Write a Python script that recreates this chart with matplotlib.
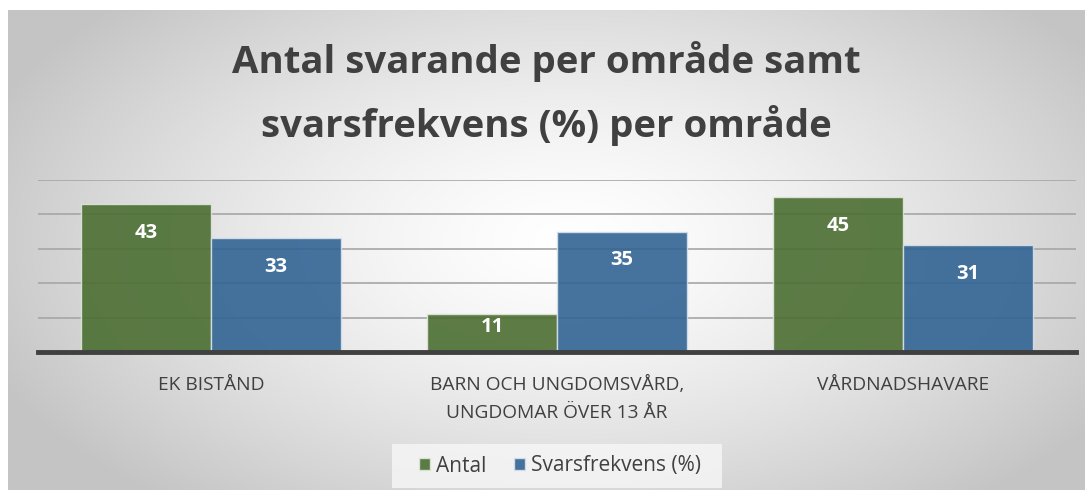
import numpy as np
import matplotlib
matplotlib.use("Agg")
import matplotlib.pyplot as plt
from matplotlib.patches import Rectangle

plt.rcParams['font.family'] = ['Open Sans', 'DejaVu Sans']

# data
categories = ["EK BISTÅND", "BARN OCH UNGDOMSVÅRD,\nUNGDOMAR ÖVER 13 ÅR", "VÅRDNADSHAVARE"]
antal = [43, 11, 45]
svarsfrekvens = [33, 35, 31]
series_names = ["Antal", "Svarsfrekvens (%)"]

c_green = "#4b6e32"
c_blue = "#326494"

fig = plt.figure(figsize=(10.92, 4.97), dpi=100)
fig.patch.set_facecolor("white")

# radial gradient background for the chart area
bg = fig.add_axes([8/1092, 1 - 490/497, (1085-8)/1092, (490-10)/497])
bg.set_axis_off()
yy, xx = np.mgrid[0:1:300j, 0:1:600j]
r = np.sqrt(((xx - 0.52) / 0.62) ** 2 + ((yy - 0.52) / 0.75) ** 2)
g = np.clip(1.0 - 0.25 * r ** 1.4, 0.77, 1.0)
bg.imshow(np.dstack([g, g, g]), extent=[0, 1, 0, 1], aspect="auto", origin="lower")
bg.set_xlim(0, 1)
bg.set_ylim(0, 1)

# plot axes
ax = fig.add_axes([38/1092, 1 - 352/497, (1076-38)/1092, (352-180)/497])
ax.patch.set_alpha(0)
x = np.arange(len(categories))
w = 0.375
ax.set_xlim(-0.5, 2.5)
ax.set_ylim(0, 50)
for yv in [10, 20, 30, 40, 50]:
    ax.axhline(yv, color="#a6a6a6", lw=1.2, zorder=1)
b1 = ax.bar(x - w/2, antal, w, color=c_green, alpha=0.9, edgecolor="#dfe6da", lw=1, zorder=2)
b2 = ax.bar(x + w/2, svarsfrekvens, w, color=c_blue, alpha=0.9, edgecolor="#d6e0ea", lw=1, zorder=2)
for bars in (b1, b2):
    for rect in bars:
        h = rect.get_height()
        ax.text(rect.get_x() + rect.get_width()/2, h - min(8.3, h * 0.35), f"{h:.0f}",
                ha="center", va="center", color="white", fontsize=14.5, fontweight="bold", zorder=3)
ax.axhline(0, color="#404040", lw=3.5, zorder=4, clip_on=False)
for s in ax.spines.values():
    s.set_visible(False)
ax.set_yticks([])
ax.set_xticks(x)
ax.set_xticklabels(categories, fontsize=13.8, color="#404040", linespacing=1.75)
ax.tick_params(axis="x", length=0, pad=17)

fig.text(0.5, 1 - 62/497, "Antal svarande per område samt", ha="center", va="center",
         fontsize=27.6, fontweight="bold", color="#404040")
fig.text(0.5, 1 - 125/497, "svarsfrekvens (%) per område", ha="center", va="center",
         fontsize=27.6, fontweight="bold", color="#404040")

# legend box
fig.patches.append(Rectangle((392/1092, 1 - 488/497), (722-392)/1092, (488-444)/497,
                             transform=fig.transFigure, facecolor="#f7f7f7", edgecolor="none",
                             alpha=0.8, zorder=0))
leg = fig.legend([b1, b2], series_names, loc="center", bbox_to_anchor=(560/1092, 1 - 466/497),
                 ncol=2, frameon=False, fontsize=15, handlelength=0.55, handleheight=0.55,
                 handletextpad=0.3, columnspacing=1.3, labelcolor="#404040")

fig.savefig("out.png", dpi=100)
